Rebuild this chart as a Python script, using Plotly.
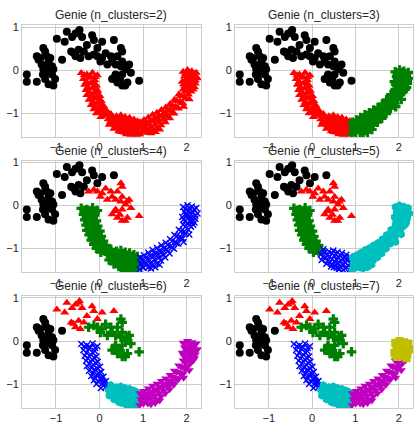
import plotly.graph_objects as go

# two moons dataset, split into the pieces Genie cuts it into
# upper moon: left end / top / right end
up_left_x = [-1.67, -1.67, -1.44, -1.44, -1.40, -1.29, -1.25, -1.33, -1.21, -1.17, -1.09, -1.06,
             -1.29, -1.21, -1.09, -1.25, -1.17, -1.02, -1.06, -1.36, -1.13, -0.86, -1.30, -1.20]
up_left_y = [-0.10, -0.27, -0.27, 0.32, 0.24, 0.51, 0.43, 0.13, 0.32, 0.20, 0.09, 0.02,
             0.02, -0.06, -0.10, -0.21, -0.33, -0.21, -0.36, 0.28, 0.28, 0.24, -0.10, 0.05]

up_top_x = [-0.98, -0.80, -0.75, -0.63, -0.55, -0.48, -0.40, -0.46, -0.65, -0.55, -0.48, -0.44,
            -0.36, -0.29, -0.17, -0.13, -0.05, 0.06, 0.33, -0.60]
up_top_y = [0.73, 0.66, 0.89, 0.77, 0.85, 0.89, 0.77, 0.93, 0.43, 0.32, 0.47, 0.28,
            0.43, 0.58, 0.81, 0.70, 0.51, 0.66, 0.70, 0.40]

up_right_x = [-0.25, -0.13, -0.05, 0.06, 0.02, 0.14, 0.26, 0.29, 0.37, 0.49, 0.52, 0.41, 0.52, 0.49,
              0.60, 0.68, 0.72, 0.52, 0.37, 0.29, 0.41, 0.52, 0.64, 0.91, 0.18, 0.36, 0.47, 0.59, 0.63]
up_right_y = [0.32, 0.36, 0.32, 0.28, 0.20, 0.39, 0.32, 0.20, 0.13, 0.51, 0.43, 0.32, 0.20, 0.09,
              0.02, 0.13, -0.06, -0.10, -0.10, -0.21, -0.29, -0.36, -0.29, -0.25, 0.13, -0.14, -0.22, -0.36, 0.09]

# lower moon: left arm / bottom / right arm / right tip
low_arm_x = [-0.42, -0.29, -0.16, -0.05, -0.37, -0.24, -0.11, -0.34, -0.21, -0.07, -0.31, -0.17, -0.04,
             -0.29, -0.14, 0.01, -0.24, -0.11, 0.04, -0.19, -0.06, 0.09, -0.13, 0.01, 0.15, -0.07, 0.07,
             0.21, 0.03, 0.15,
             -0.35, -0.22, -0.10, -0.30, -0.15, -0.27, -0.12, -0.23, -0.09, -0.19, -0.05, -0.15, -0.01,
             -0.10, 0.05, -0.02, 0.11, 0.09]
low_arm_y = [-0.07, -0.10, -0.06, -0.12, -0.21, -0.18, -0.23, -0.34, -0.31, -0.36, -0.46, -0.43, -0.48,
             -0.58, -0.55, -0.60, -0.69, -0.66, -0.72, -0.81, -0.78, -0.83, -0.91, -0.88, -0.93, -1.00, -0.98,
             -1.03, -1.09, -1.06,
             -0.12, -0.14, -0.16, -0.27, -0.28, -0.40, -0.39, -0.52, -0.51, -0.62, -0.64, -0.74, -0.75,
             -0.85, -0.86, -0.95, -0.96, -1.04]

low_bottom_x = [0.20, 0.22, 0.29, 0.31, 0.33, 0.39, 0.41, 0.42, 0.44, 0.49, 0.51, 0.52, 0.50, 0.59,
                0.61, 0.60, 0.62, 0.69, 0.71, 0.70, 0.72, 0.79, 0.81, 0.80, 0.87, 0.89, 0.86, 0.26,
                0.25, 0.36, 0.36, 0.46, 0.46, 0.46, 0.55, 0.56, 0.56, 0.65, 0.66, 0.66, 0.75, 0.76, 0.76,
                0.84, 0.84, 0.57, 0.62]
low_bottom_y = [-1.14, -1.27, -1.10, -1.23, -1.36, -1.07, -1.19, -1.32, -1.42, -1.05, -1.17, -1.30, -1.44, -1.09,
                -1.21, -1.34, -1.47, -1.11, -1.24, -1.38, -1.50, -1.15, -1.29, -1.44, -1.19, -1.34, -1.50, -1.02,
                -1.20, -1.15, -1.29, -1.12, -1.25, -1.37, -1.13, -1.26, -1.39, -1.16, -1.29, -1.43, -1.20, -1.33, -1.47,
                -1.25, -1.40, -1.45, -1.49]

low_right_x = [0.93, 0.95, 0.92, 1.02, 1.04, 1.01, 1.12, 1.14, 1.11, 1.22, 1.24, 1.21, 1.32, 1.34, 1.31,
               1.42, 1.44, 1.41, 1.52, 1.54, 1.51, 1.62, 1.64, 1.61, 1.72, 1.74, 1.71, 1.82, 1.84, 1.81,
               1.92, 1.94, 1.91, 2.02, 2.04, 2.12, 2.10,
               0.97, 0.98, 1.07, 1.08, 1.17, 1.18, 1.27, 1.27, 1.37, 1.37, 1.47, 1.47, 1.57, 1.57,
               1.67, 1.67, 1.77, 1.77, 1.87, 1.87, 1.97, 1.97, 2.07, 2.15,
               1.18, 1.28, 1.38, 1.93, 2.06]
low_right_y = [-1.21, -1.35, -1.49, -1.16, -1.31, -1.45, -1.10, -1.26, -1.45, -1.04, -1.19, -1.40, -0.99, -1.14, -1.35,
               -0.93, -1.08, -1.28, -0.87, -1.02, -1.21, -0.79, -0.94, -1.12, -0.69, -0.85, -1.01, -0.57, -0.73, -0.89,
               -0.45, -0.61, -0.77, -0.41, -0.57, -0.39, -0.50,
               -1.27, -1.42, -1.22, -1.37, -1.17, -1.33, -1.12, -1.27, -1.06, -1.21, -1.00, -1.15, -0.92, -1.07,
               -0.83, -0.98, -0.72, -0.88, -0.60, -0.76, -0.50, -0.66, -0.46, -0.45,
               -1.47, -1.44, -1.38, -0.85, -0.68]

low_tip_x = [1.92, 2.02, 2.12, 2.22, 1.95, 2.05, 2.15, 2.25, 1.90, 2.00, 2.10, 2.20, 1.96, 2.08, 2.18,
             1.97, 2.07, 2.17, 2.00, 2.10, 2.20, 1.93, 2.03, 2.13]
low_tip_y = [-0.04, 0.00, -0.03, -0.06, -0.15, -0.12, -0.16, -0.19, -0.27, -0.25, -0.28, -0.31, -0.37, -0.36, -0.40,
             -0.08, -0.06, -0.09, -0.20, -0.21, -0.24, -0.33, -0.31, -0.34]

pieces = [(up_left_x, up_left_y), (up_top_x, up_top_y), (up_right_x, up_right_y),
          (low_arm_x, low_arm_y), (low_bottom_x, low_bottom_y), (low_right_x, low_right_y),
          (low_tip_x, low_tip_y)]

# cluster label of each piece, per n_clusters (Genie is hierarchical so they nest)
n_clusters = [2, 3, 4, 5, 6, 7]
labels = {
    2: [0, 0, 0, 1, 1, 1, 1],
    3: [0, 0, 0, 1, 1, 2, 2],
    4: [0, 0, 1, 2, 2, 3, 3],
    5: [0, 0, 1, 2, 3, 4, 4],
    6: [0, 1, 2, 3, 4, 5, 5],
    7: [0, 1, 2, 3, 4, 5, 6],
}

colors = ['black', 'red', 'green', 'blue', '#00bfbf', '#bf00bf', '#bfbf00']
symbols = ['circle', 'triangle-up', 'cross', 'x-thin', 'hexagon', 'triangle-down', 'square']

# panel frames in pixels (419x429 window)
W, H = 419, 429
col_px = [(22, 201), (235, 413)]
row_px = [(21.5, 134.5), (158, 271), (295, 408)]

fig = go.Figure()
for i, k in enumerate(n_clusters):
    r, c = i // 2, i % 2
    ax = '' if i == 0 else str(i + 1)
    for cl in range(k):
        xs, ys = [], []
        for p, lab in zip(pieces, labels[k]):
            if lab == cl:
                xs += p[0]
                ys += p[1]
        thin = symbols[cl] == 'x-thin'
        fig.add_trace(go.Scatter(
            x=xs, y=ys, mode='markers', xaxis='x' + ax, yaxis='y' + ax, showlegend=False,
            marker=dict(symbol=symbols[cl], color=colors[cl], size=6 if thin else 8,
                        line=dict(width=1.4 if thin else 0, color=colors[cl]))))

    x0, x1 = col_px[c]
    y0, y1 = row_px[r]
    axis = dict(showgrid=True, gridcolor='#cccccc', gridwidth=1, zeroline=False,
                showline=True, linecolor='#cccccc', linewidth=1, mirror=True, ticks='',
                tickfont=dict(family='Liberation Sans', size=11, color='#262626'))
    fig.update_layout(**{
        'xaxis' + ax: dict(axis, domain=[x0 / W, x1 / W], range=[-1.78, 2.33],
                           tickvals=[-1, 0, 1, 2], anchor='y' + ax),
        'yaxis' + ax: dict(axis, domain=[1 - y1 / H, 1 - y0 / H], range=[-1.56, 1.04],
                           tickvals=[-1, 0, 1], anchor='x' + ax),
    })
    fig.add_annotation(text=f'Genie (n_clusters={k})', xref='paper', yref='paper',
                       x=(x0 + x1) / 2 / W, y=1 - y0 / H, xanchor='center', yanchor='bottom',
                       yshift=1, showarrow=False,
                       font=dict(family='Liberation Sans', size=12, color='#262626'))

fig.update_layout(width=W, height=H, margin=dict(l=0, r=0, t=0, b=0),
                  paper_bgcolor='white', plot_bgcolor='white')
# page body margin would push the figure off the window
fig.write_html('out.html', config={'displayModeBar': False},
               post_script="document.body.style.margin='0';")
